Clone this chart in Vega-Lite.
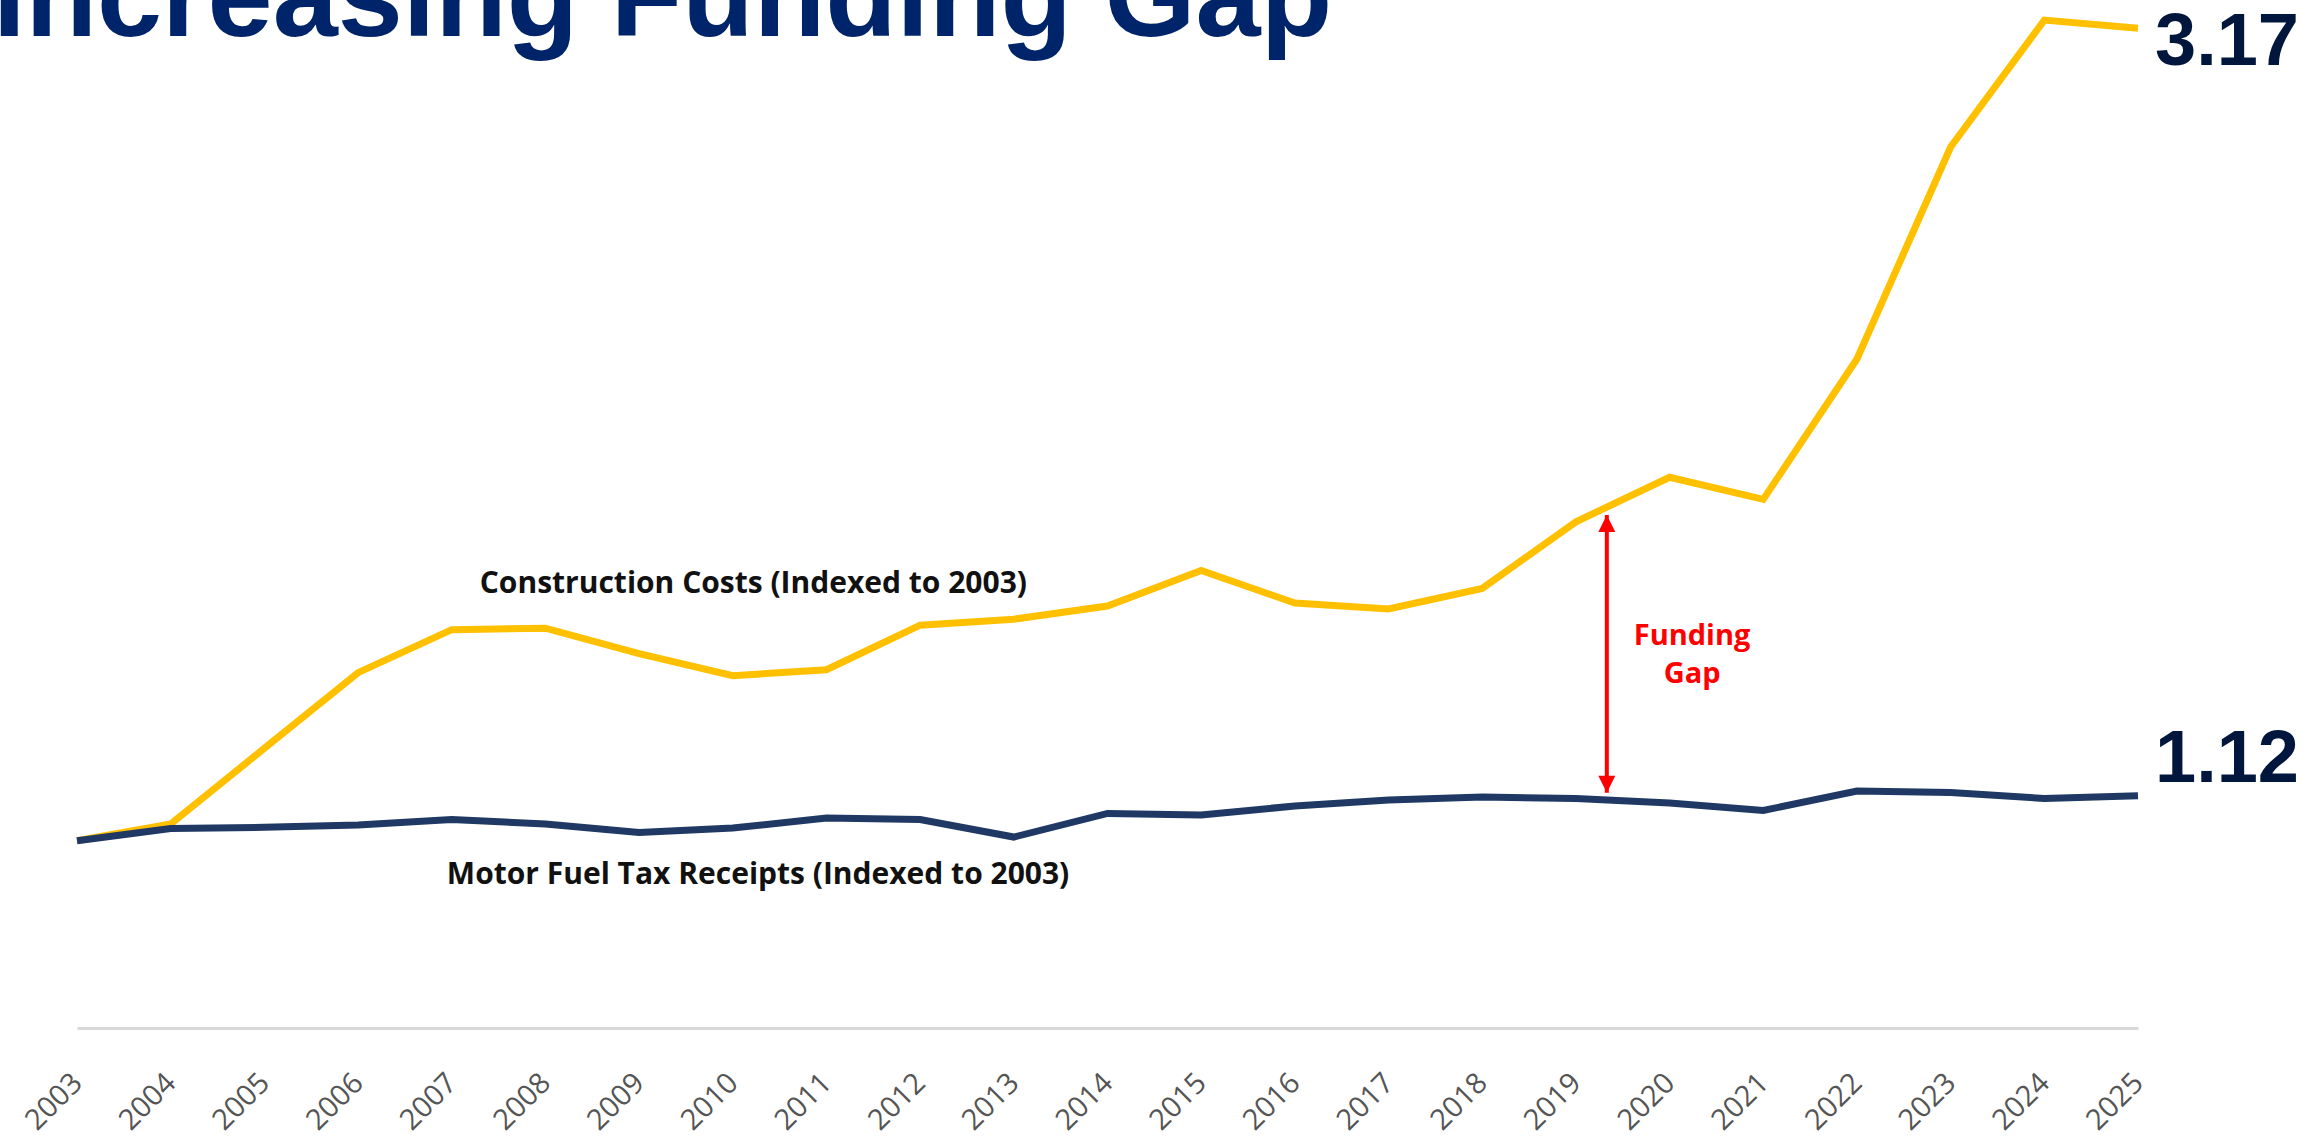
{
  "$schema": "https://vega.github.io/schema/vega-lite/v6.json",
  "width": 2061,
  "height": 1028,
  "autosize": "none",
  "padding": {"left": 77, "top": 0, "right": 185, "bottom": 114},
  "background": "white",
  "config": {"view": {"stroke": null}},
  "datasets": {
    "series": [
      {"year": 2003, "series": "Construction Costs", "value": 1.0},
      {"year": 2004, "series": "Construction Costs", "value": 1.045},
      {"year": 2005, "series": "Construction Costs", "value": 1.247},
      {"year": 2006, "series": "Construction Costs", "value": 1.449},
      {"year": 2007, "series": "Construction Costs", "value": 1.564},
      {"year": 2008, "series": "Construction Costs", "value": 1.568},
      {"year": 2009, "series": "Construction Costs", "value": 1.5},
      {"year": 2010, "series": "Construction Costs", "value": 1.441},
      {"year": 2011, "series": "Construction Costs", "value": 1.457},
      {"year": 2012, "series": "Construction Costs", "value": 1.576},
      {"year": 2013, "series": "Construction Costs", "value": 1.592},
      {"year": 2014, "series": "Construction Costs", "value": 1.627},
      {"year": 2015, "series": "Construction Costs", "value": 1.722},
      {"year": 2016, "series": "Construction Costs", "value": 1.635},
      {"year": 2017, "series": "Construction Costs", "value": 1.619},
      {"year": 2018, "series": "Construction Costs", "value": 1.674},
      {"year": 2019, "series": "Construction Costs", "value": 1.852},
      {"year": 2020, "series": "Construction Costs", "value": 1.971},
      {"year": 2021, "series": "Construction Costs", "value": 1.912},
      {"year": 2022, "series": "Construction Costs", "value": 2.287},
      {"year": 2023, "series": "Construction Costs", "value": 2.853},
      {"year": 2024, "series": "Construction Costs", "value": 3.192},
      {"year": 2025, "series": "Construction Costs", "value": 3.17},
      {"year": 2003, "series": "Motor Fuel Tax Receipts", "value": 1.0},
      {"year": 2004, "series": "Motor Fuel Tax Receipts", "value": 1.033},
      {"year": 2005, "series": "Motor Fuel Tax Receipts", "value": 1.036},
      {"year": 2006, "series": "Motor Fuel Tax Receipts", "value": 1.042},
      {"year": 2007, "series": "Motor Fuel Tax Receipts", "value": 1.057},
      {"year": 2008, "series": "Motor Fuel Tax Receipts", "value": 1.045},
      {"year": 2009, "series": "Motor Fuel Tax Receipts", "value": 1.022},
      {"year": 2010, "series": "Motor Fuel Tax Receipts", "value": 1.034},
      {"year": 2011, "series": "Motor Fuel Tax Receipts", "value": 1.061},
      {"year": 2012, "series": "Motor Fuel Tax Receipts", "value": 1.057},
      {"year": 2013, "series": "Motor Fuel Tax Receipts", "value": 1.01},
      {"year": 2014, "series": "Motor Fuel Tax Receipts", "value": 1.073},
      {"year": 2015, "series": "Motor Fuel Tax Receipts", "value": 1.069},
      {"year": 2016, "series": "Motor Fuel Tax Receipts", "value": 1.093},
      {"year": 2017, "series": "Motor Fuel Tax Receipts", "value": 1.109},
      {"year": 2018, "series": "Motor Fuel Tax Receipts", "value": 1.117},
      {"year": 2019, "series": "Motor Fuel Tax Receipts", "value": 1.113},
      {"year": 2020, "series": "Motor Fuel Tax Receipts", "value": 1.101},
      {"year": 2021, "series": "Motor Fuel Tax Receipts", "value": 1.081},
      {"year": 2022, "series": "Motor Fuel Tax Receipts", "value": 1.133},
      {"year": 2023, "series": "Motor Fuel Tax Receipts", "value": 1.129},
      {"year": 2024, "series": "Motor Fuel Tax Receipts", "value": 1.113},
      {"year": 2025, "series": "Motor Fuel Tax Receipts", "value": 1.12}
    ],
    "notes": [
      {"label": "Construction Costs (Indexed to 2003)", "year": 2010.22, "value": 1.662},
      {"label": "Motor Fuel Tax Receipts (Indexed to 2003)", "year": 2010.27, "value": 0.884}
    ],
    "gap": [
      {"year": 2019.33, "top": 1.87, "bottom": 1.128, "label": ["Funding", "Gap"], "labelYear": 2020.24, "labelValue": 1.523}
    ],
    "heading": [
      {"text": "Increasing Funding Gap", "year": 2003, "value": 3.2457}
    ]
  },
  "data": {"name": "series"},
  "encoding": {
    "x": {
      "field": "year",
      "type": "quantitative",
      "scale": {"domain": [2003, 2025], "nice": false, "zero": false},
      "axis": {
        "title": null,
        "values": [2003, 2004, 2005, 2006, 2007, 2008, 2009, 2010, 2011, 2012, 2013, 2014, 2015, 2016, 2017, 2018, 2019, 2020, 2021, 2022, 2023, 2024, 2025],
        "format": "d",
        "grid": false,
        "ticks": false,
        "tickSize": 0,
        "domainColor": "#D9D9D9",
        "domainWidth": 3,
        "labelAngle": -45,
        "labelAlign": "right",
        "labelBaseline": "middle",
        "labelPadding": 50,
        "labelFont": "Open Sans",
        "labelFontSize": 29,
        "labelColor": "#555555",
        "labelFlush": false,
        "labelOverlap": false
      }
    },
    "y": {
      "field": "value",
      "type": "quantitative",
      "scale": {"domain": [0.5, 3.2457], "nice": false, "zero": false},
      "axis": null
    }
  },
  "layer": [
    {
      "transform": [{"filter": "datum.series === 'Construction Costs'"}],
      "mark": {"type": "line", "color": "#FFC000", "strokeWidth": 7, "strokeJoin": "miter", "strokeCap": "butt"}
    },
    {
      "transform": [{"filter": "datum.series === 'Motor Fuel Tax Receipts'"}],
      "mark": {"type": "line", "color": "#203864", "strokeWidth": 7, "strokeJoin": "miter", "strokeCap": "butt"}
    },
    {
      "transform": [{"filter": "datum.series === 'Construction Costs' && datum.year === 2025"}],
      "mark": {"type": "text", "align": "left", "baseline": "alphabetic", "dx": 17, "dy": 37, "font": "Liberation Sans", "fontWeight": "bold", "fontSize": 74, "color": "#00163D"},
      "encoding": {"text": {"field": "value", "type": "quantitative", "format": ".2f"}}
    },
    {
      "transform": [{"filter": "datum.series === 'Motor Fuel Tax Receipts' && datum.year === 2025"}],
      "mark": {"type": "text", "align": "left", "baseline": "alphabetic", "dx": 17, "dy": -14, "font": "Liberation Sans", "fontWeight": "bold", "fontSize": 74, "color": "#00163D"},
      "encoding": {"text": {"field": "value", "type": "quantitative", "format": ".2f"}}
    },
    {
      "data": {"name": "notes"},
      "mark": {"type": "text", "align": "center", "baseline": "alphabetic", "font": "Open Sans", "fontWeight": "bold", "fontSize": 30, "color": "#111111"},
      "encoding": {"text": {"field": "label"}}
    },
    {
      "data": {"name": "gap"},
      "mark": {"type": "rule", "color": "#FF0000", "strokeWidth": 4},
      "encoding": {"y": {"field": "top", "type": "quantitative"}, "y2": {"field": "bottom"}}
    },
    {
      "data": {"name": "gap"},
      "mark": {"type": "point", "shape": "M0,0L-0.5,1L0.5,1Z", "filled": true, "opacity": 1, "color": "#FF0000", "size": 1156, "strokeWidth": 0},
      "encoding": {"y": {"field": "top", "type": "quantitative"}}
    },
    {
      "data": {"name": "gap"},
      "mark": {"type": "point", "shape": "M0,0L-0.5,-1L0.5,-1Z", "filled": true, "opacity": 1, "color": "#FF0000", "size": 1156, "strokeWidth": 0},
      "encoding": {"y": {"field": "bottom", "type": "quantitative"}}
    },
    {
      "data": {"name": "gap"},
      "mark": {"type": "text", "align": "center", "baseline": "alphabetic", "lineHeight": 38, "font": "Open Sans", "fontWeight": "bold", "fontSize": 29, "color": "#FF0000"},
      "encoding": {
        "x": {"field": "labelYear", "type": "quantitative"},
        "y": {"field": "labelValue", "type": "quantitative"},
        "text": {"field": "label"}
      }
    },
    {
      "data": {"name": "heading"},
      "mark": {"type": "text", "align": "left", "baseline": "alphabetic", "dx": -84, "dy": 36, "font": "Liberation Sans", "fontWeight": "bold", "fontSize": 117, "color": "#002469"},
      "encoding": {"text": {"field": "text"}}
    }
  ]
}
